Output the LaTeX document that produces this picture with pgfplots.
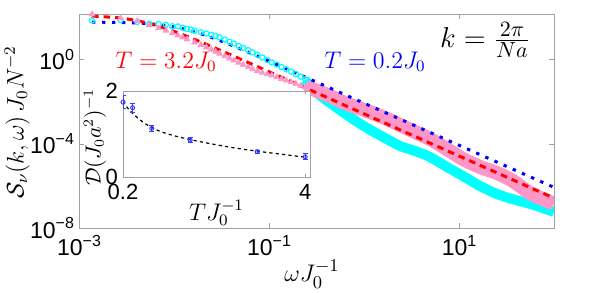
\documentclass[border=0pt]{standalone}
\usepackage{fontspec}
\setmainfont{Liberation Sans}
\usepackage{pgfplots}
\pgfplotsset{compat=1.18}
\definecolor{mcyan}{RGB}{0,255,255}
\definecolor{mpink}{RGB}{255,150,200}
\definecolor{mred}{RGB}{255,0,0}
\definecolor{mblue}{RGB}{0,0,255}
\definecolor{ebl}{RGB}{60,60,255}
\definecolor{frm}{RGB}{160,160,160}
\newcommand{\sups}[1]{\raisebox{0.4em}{\fontsize{8}{9}\selectfont #1}}
\begin{document}
\begin{tikzpicture}
\useasboundingbox (0,0) rectangle (299pt,146.5pt);
\begin{axis}[
  at={(39.5pt,32.5pt)}, anchor=south west,
  scale only axis, width=237.5pt, height=107pt,
  xmode=log, ymode=log,
  xmin=1e-3, xmax=1e2, ymin=1e-8, ymax=145,
  xtick={1e-3,1e-1,1e1},
  xticklabels={10\sups{−3},10\sups{−1},10\sups{1}},
  ytick={1e-8,1e-4,1},
  yticklabels={10\sups{−8},10\sups{−4},10\sups{0}},
  xminorticks=false, yminorticks=false,
  tick align=inside, major tick length=2.5pt,
  axis line style={frm}, tick style={frm},
  tick label style={font=\fontsize{11.5}{13}\selectfont},
  yticklabel style={xshift=1pt},
  ylabel={$\mathcal{S}_\nu(k,\omega)\,J_0N^{-2}$},
  label style={font=\fontsize{11.5}{13}\selectfont},
  ylabel style={at={(axis description cs:-0.1305,0.495)}, anchor=center},
]
% T = 0.2 data (cyan circles, then dense band)
\addplot[only marks, mark=o, mark size=1.3pt, mcyan, mark options={line width=0.6pt}] coordinates {
(1.371e-3,71.4) (2.742e-3,75.3) (4.113e-3,60.4) (5.484e-3,49.7) (6.855e-3,48.4) (8.226e-3,44.6) (9.597e-3,38.1) (1.097e-2,37.3) (1.234e-2,32.5) (1.371e-2,28.2) (1.508e-2,26.5) (1.645e-2,23.1) (1.919e-2,20.0) (2.194e-2,17.2) (2.468e-2,14.9) (2.742e-2,13.1) (3.016e-2,11.4) (3.428e-2,8.89) (3.839e-2,6.92) (4.250e-2,5.75) (4.799e-2,4.37) (5.347e-2,3.56) (6.032e-2,2.77) (6.718e-2,2.19) (7.541e-2,1.67) (8.500e-2,1.26) (9.597e-2,0.948) (0.1069,0.733) (0.1206,0.578) (0.1357,0.436) (0.1522,0.340) (0.1714,0.262) (0.1919,0.204) (0.2152,0.155) (0.2413,0.115)
};
\addplot[mcyan, line width=5pt, line join=round, smooth] coordinates {
(0.2393,0.1064) (0.3199,0.02566) (0.4721,6.91e-3) (0.7129,1.86e-3) (1.076,5.59e-4) (1.663,1.87e-4) (2.393,7.82e-5) (3.443,4.52e-5) (4.955,2.34e-5) (7.482,7.86e-6) (11.02,2.94e-6) (16.63,9.84e-7) (25.12,4.10e-7) (36.14,2.38e-7) (52.0,1.54e-7) (71.3,9.91e-8) (100,5.74e-8)
};
% T = 3.2 data (pink triangles, then dense band)
\addplot[only marks, mark=triangle*, mark size=1.6pt, mpink] coordinates {
(1.371e-3,140) (2.742e-3,93.5) (4.113e-3,67.3) (5.484e-3,43.5) (6.855e-3,31.1) (8.226e-3,23.6) (9.597e-3,17.7) (1.097e-2,14.1) (1.234e-2,11.3) (1.371e-2,9.12) (1.645e-2,6.55) (1.919e-2,4.90) (2.194e-2,3.80) (2.468e-2,2.96) (2.742e-2,2.36) (3.016e-2,1.91) (3.428e-2,1.45) (3.839e-2,1.14) (4.250e-2,0.910) (4.799e-2,0.714) (5.347e-2,0.564) (6.032e-2,0.434) (6.718e-2,0.350) (7.541e-2,0.291) (8.500e-2,0.240) (9.597e-2,0.202) (0.1069,0.175) (0.1206,0.144) (0.1357,0.119) (0.1522,0.101) (0.1714,0.0836) (0.1919,0.0714) (0.2152,0.0568) (0.2413,0.0480)
};
\addplot[mpink, line width=7pt, line join=round, smooth] coordinates {
(0.2393,0.0494) (0.3048,0.0356) (0.4385,0.0185) (0.631,8.59e-3) (1.076,3.59e-3) (1.663,1.67e-3) (2.393,7.76e-4) (3.443,3.61e-4) (4.955,1.68e-4) (7.482,5.62e-5) (11.02,1.88e-5) (16.63,7.86e-6) (25.12,4.07e-6) (36.98,1.70e-6) (55.85,4.58e-7) (90.8,1.71e-7) (100,1.38e-7)
};
% fits
\addplot[mblue, line width=1.5pt, dash pattern=on 1.7pt off 3.3pt, smooth] coordinates {
(1.371e-3,59.4) (2.512e-3,57.7) (3.981e-3,54.2) (6.310e-3,47.0) (0.01,35.2) (0.01585,21.6) (0.02512,11.0) (0.03981,4.91) (0.0631,2.06) (0.1,0.836) (0.1585,0.336) (0.2512,0.134) (0.3981,0.0535) (0.631,0.0213) (1,8.47e-3) (3.162,8.47e-4) (10,8.47e-5) (31.62,8.47e-6) (100,8.47e-7)
};
\addplot[mred, line width=1.5pt, dash pattern=on 3.3pt off 2.5pt, smooth] coordinates {
(1.371e-3,115.6) (2.512e-3,96.7) (3.981e-3,71.6) (6.310e-3,43.3) (0.01,21.8) (0.01585,9.67) (0.02512,4.04) (0.03981,1.64) (0.0631,0.658) (0.1,0.262) (0.1585,0.1047) (0.2512,0.0417) (0.3981,0.0166) (0.631,6.61e-3) (1,2.63e-3) (3.162,2.63e-4) (10,2.63e-5) (31.62,2.63e-6) (100,2.63e-7)
};
\node[mred, font=\fontsize{12}{14}\selectfont] at (rel axis cs:0.183,0.776) {$T=3.2J_0$};
\node[mblue, font=\fontsize{12}{14}\selectfont] at (rel axis cs:0.623,0.776) {$T=0.2J_0$};
\node[black, font=\fontsize{15.5}{19}\selectfont] at (rel axis cs:0.855,0.879) {$k=\frac{2\pi}{Na}$};
\end{axis}
\node[font=\fontsize{12.5}{15}\selectfont] at (156pt,9.5pt) {$\omega J_0^{-1}$};
% inset
\begin{axis}[
  at={(61.5pt,58pt)}, anchor=south west,
  scale only axis, width=93.5pt, height=43pt,
  xmin=0.2, xmax=4.1, ymin=0, ymax=2,
  xtick={0.2,4}, xticklabels={0.2,4},
  ytick={0,2}, yticklabels={0,2},
  axis background/.style={fill=white},
  tick align=inside, major tick length=1.5pt,
  axis line style={frm}, tick style={frm},
  tick label style={font=\fontsize{11}{12}\selectfont},
  yticklabel style={xshift=1pt},
  xlabel={$TJ_0^{-1}$},
  ylabel={$\mathcal{D}(J_0a^2)^{-1}$},
  xlabel style={font=\fontsize{11.5}{13}\selectfont, at={(axis description cs:0.5,-0.42)}, anchor=center},
  ylabel style={font=\fontsize{10.5}{12}\selectfont, at={(axis description cs:-0.15,0.465)}, anchor=center},
]
\addplot[black, line width=0.6pt, dash pattern=on 1.6pt off 1.6pt, smooth] coordinates {
(0.2,1.76) (0.3,1.60) (0.4,1.48) (0.6,1.29) (0.8,1.15) (1.0,1.05) (1.3,0.95) (1.6,0.87) (2.0,0.78) (2.5,0.68) (3.0,0.60) (3.5,0.53) (4.0,0.46)
};
\addplot[only marks, mark=o, mark size=1pt, ebl, mark options={line width=0.5pt},
  error bars/.cd, y dir=both, y explicit,
  error bar style={ebl, line width=0.4pt},
  error mark options={rotate=90, mark size=1.3pt, ebl, line width=0.4pt}] coordinates {
(0.2,1.74) +- (0,0.15)
(0.4,1.61) +- (0,0.10)
(0.8,1.13) +- (0,0.07)
(1.6,0.86) +- (0,0.06)
(3.0,0.59) +- (0,0.035)
(4.0,0.47) +- (0,0.07)
};
\end{axis}
\end{tikzpicture}
\end{document}
